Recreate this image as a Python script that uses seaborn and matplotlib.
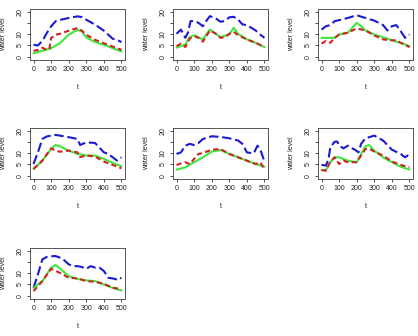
import matplotlib
matplotlib.use("Agg")
import matplotlib.pyplot as plt
import seaborn as sns

# ---- data (t, water level) ----
p1_blue_t = [0, 25, 50, 75, 100, 125, 150, 200, 250, 275, 300, 350, 400, 425, 450, 475, 500]
p1_blue = [5.3, 5.0, 7.0, 10.5, 13.5, 15.8, 16.4, 17.3, 18.0, 17.7, 16.5, 14.3, 11.6, 9.8, 8.0, 7.5, 6.5]
p1_red_t = [0, 25, 50, 75, 90, 100, 125, 150, 200, 250, 275, 300, 350, 400, 450, 500]
p1_red = [2.6, 3.0, 4.0, 3.0, 3.5, 8.3, 9.8, 10.2, 11.6, 12.8, 11.6, 9.8, 7.5, 6.0, 4.5, 3.0]
p1_green_t = [0, 50, 100, 150, 200, 250, 275, 300, 350, 400, 450, 500]
p1_green = [1.5, 2.6, 3.8, 6.0, 9.8, 12.0, 11.3, 8.6, 6.5, 5.3, 3.8, 2.3]

p2_blue_t = [0, 25, 40, 50, 65, 80, 100, 125, 150, 175, 190, 225, 250, 275, 300, 325, 350, 375, 400, 450, 475, 500]
p2_blue = [10.2, 12.1, 10.0, 8.4, 10.7, 15.9, 15.9, 15.1, 13.6, 16.6, 18.1, 17.0, 15.6, 15.9, 17.6, 17.8, 16.6, 14.4, 14.1, 11.7, 9.9, 8.4]
p2_red_t = [0, 25, 50, 75, 100, 125, 150, 175, 190, 225, 250, 275, 300, 325, 350, 400, 450, 500]
p2_red = [4.7, 5.8, 4.3, 8.1, 9.2, 8.4, 6.7, 9.9, 11.7, 10.2, 8.4, 8.7, 10.2, 11.1, 9.6, 7.7, 6.2, 4.3]
p2_green_t = [0, 50, 75, 100, 150, 190, 250, 300, 325, 350, 400, 450, 500]
p2_green = [4.0, 5.5, 8.7, 9.6, 7.7, 12.1, 8.7, 9.9, 12.9, 10.2, 7.7, 6.2, 4.3]

p3_blue_t = [0, 25, 50, 75, 100, 150, 200, 250, 300, 350, 375, 400, 425, 450, 475, 500]
p3_blue = [12.1, 13.6, 14.1, 15.9, 16.3, 17.3, 18.5, 17.3, 16.1, 14.1, 11.7, 13.6, 14.1, 11.4, 8.4, 9.9]
p3_red_t = [0, 25, 50, 75, 100, 150, 200, 250, 300, 350, 400, 425, 450, 500]
p3_red = [5.8, 7.0, 6.2, 8.4, 9.9, 10.7, 12.6, 11.7, 9.5, 7.7, 7.3, 7.3, 6.2, 4.3]
p3_green_t = [0, 75, 100, 150, 175, 200, 225, 250, 300, 350, 400, 450, 500]
p3_green = [8.4, 8.4, 9.9, 10.7, 12.9, 15.1, 13.6, 11.7, 9.9, 8.7, 7.3, 6.2, 4.7]

p4_blue_t = [0, 25, 50, 75, 100, 125, 150, 200, 250, 265, 300, 350, 400, 425, 450, 475, 500]
p4_blue = [5.2, 10.4, 16.4, 17.5, 17.9, 18.2, 17.9, 17.2, 16.4, 13.7, 14.9, 14.6, 10.4, 9.7, 8.2, 6.7, 8.2]
p4_red_t = [0, 50, 100, 125, 150, 200, 250, 260, 300, 350, 400, 450, 500]
p4_red = [3.0, 6.7, 12.2, 11.2, 10.7, 11.2, 10.4, 8.2, 9.0, 8.5, 6.3, 4.8, 3.3]
p4_green_t = [0, 50, 100, 125, 150, 200, 250, 300, 350, 400, 450, 500]
p4_green = [3.0, 6.7, 11.9, 13.7, 13.1, 11.2, 9.7, 9.0, 9.0, 7.5, 5.7, 4.2]

p5_blue_t = [0, 25, 50, 75, 100, 125, 150, 200, 250, 300, 350, 375, 400, 425, 440, 460, 475, 500]
p5_blue = [9.7, 10.4, 13.4, 14.2, 13.7, 14.6, 16.4, 17.6, 17.3, 16.7, 15.7, 14.2, 10.4, 10.1, 10.1, 13.4, 11.9, 6.3]
p5_red_t = [0, 50, 75, 100, 125, 150, 200, 250, 300, 350, 400, 450, 475, 500]
p5_red = [4.8, 6.0, 5.2, 7.5, 9.7, 10.1, 11.6, 11.9, 9.7, 8.2, 6.7, 5.2, 6.0, 3.0]
p5_green_t = [0, 50, 100, 150, 200, 250, 300, 350, 400, 450, 500]
p5_green = [2.7, 3.7, 6.0, 8.2, 10.7, 11.5, 9.7, 8.2, 6.7, 5.2, 4.0]

p6_blue_t = [0, 25, 40, 50, 75, 90, 100, 125, 150, 175, 190, 210, 225, 250, 300, 350, 400, 450, 475, 490, 500]
p6_blue = [4.8, 4.5, 7.5, 12.7, 15.2, 15.2, 13.4, 12.2, 13.4, 12.2, 11.6, 10.4, 14.2, 16.7, 17.9, 15.7, 11.6, 9.7, 8.2, 9.0, 8.2]
p6_red_t = [0, 25, 50, 75, 100, 125, 150, 200, 225, 250, 275, 300, 350, 400, 450, 500]
p6_red = [2.5, 2.2, 6.3, 8.2, 5.2, 6.7, 6.0, 6.0, 9.0, 11.9, 11.9, 10.7, 9.0, 6.3, 4.8, 3.7]
p6_green_t = [0, 25, 50, 75, 100, 150, 200, 225, 250, 270, 300, 350, 400, 450, 500]
p6_green = [2.5, 2.5, 6.0, 8.2, 8.2, 6.7, 6.0, 9.7, 13.1, 13.7, 11.2, 8.2, 6.0, 4.0, 2.7]

p7_blue_t = [0, 25, 50, 75, 100, 125, 150, 175, 200, 225, 250, 275, 300, 325, 350, 375, 400, 425, 450, 475, 490, 500]
p7_blue = [3.5, 9.5, 16.2, 17.3, 17.6, 17.7, 17.0, 15.8, 14.0, 13.2, 13.2, 12.8, 12.0, 13.2, 12.5, 12.5, 11.0, 8.0, 7.7, 7.2, 8.0, 7.7]
p7_red_t = [0, 50, 100, 150, 200, 250, 300, 350, 400, 450, 500]
p7_red = [2.0, 6.5, 12.0, 10.2, 8.0, 7.7, 6.5, 6.2, 5.3, 3.5, 3.0]
p7_green_t = [0, 50, 100, 125, 150, 200, 250, 300, 350, 400, 450, 500]
p7_green = [3.5, 6.5, 12.5, 13.7, 12.2, 8.7, 7.5, 6.8, 6.5, 5.0, 3.5, 2.3]

x_ticks = [0, 100, 200, 300, 400, 500]
y_ticks = [0, 5, 10, 15, 20]
y_tick_labels = ["0", "5", "10", "", "20"]

panels = [
    (p1_blue_t, p1_blue, p1_red_t, p1_red, p1_green_t, p1_green),
    (p2_blue_t, p2_blue, p2_red_t, p2_red, p2_green_t, p2_green),
    (p3_blue_t, p3_blue, p3_red_t, p3_red, p3_green_t, p3_green),
    (p4_blue_t, p4_blue, p4_red_t, p4_red, p4_green_t, p4_green),
    (p5_blue_t, p5_blue, p5_red_t, p5_red, p5_green_t, p5_green),
    (p6_blue_t, p6_blue, p6_red_t, p6_red, p6_green_t, p6_green),
    (p7_blue_t, p7_blue, p7_red_t, p7_red, p7_green_t, p7_green),
]

# ---- figure ----
sns.set_theme(style="ticks")
plt.rcParams["font.family"] = ["Liberation Sans", "DejaVu Sans"]

W, H = 418, 336
fig = plt.figure(figsize=(W / 100, H / 100), dpi=100)

col_left = [30, 173, 318]
row_top = [9, 128, 248]
box_w, box_h = 95, 51

for i, (bt, bv, rt, rv, gt, gv) in enumerate(panels):
    r, c = divmod(i, 3)
    ax = fig.add_axes([col_left[c] / W, 1 - (row_top[r] + box_h) / H, box_w / W, box_h / H])
    sns.lineplot(x=bt, y=bv, ax=ax, color="#1a1ad0", linewidth=1.5,
                 linestyle=(0, (4.5, 1.8)))
    sns.lineplot(x=gt, y=gv, ax=ax, color="#3ee63e", linewidth=1.5)
    sns.lineplot(x=rt, y=rv, ax=ax, color="#d42020", linewidth=1.5,
                 linestyle=(0, (2.5, 1.6)))
    ax.set_xlim(-20, 520)
    ax.set_ylim(-1.5, 21.3)
    ax.set_xticks(x_ticks)
    ax.set_yticks(y_ticks)
    ax.set_yticklabels(y_tick_labels, rotation=90, va="center")
    ax.tick_params(labelsize=5, length=2.5, width=0.6, pad=2, color="#333333",
                   labelcolor="#222222")
    for s in ax.spines.values():
        s.set_visible(True)
        s.set_linewidth(0.7)
        s.set_color("#555555")
    ax.set_xlabel("t", fontsize=5, labelpad=8, color="#222222")
    ax.set_ylabel("water level", fontsize=5, labelpad=7, color="#222222")

fig.savefig("out.png", dpi=100)
